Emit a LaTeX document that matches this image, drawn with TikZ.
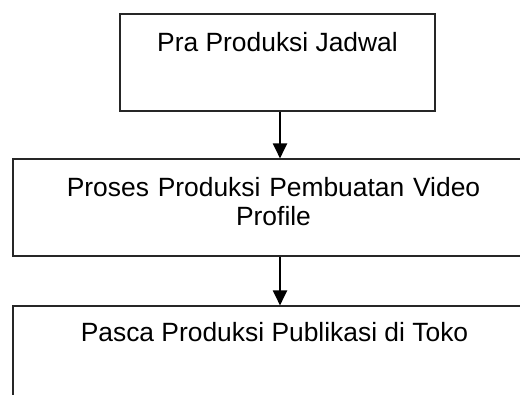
\documentclass[tikz,border=0pt]{standalone}
\usepackage{fontspec}
\setmainfont{Liberation Sans}
\usetikzlibrary{arrows.meta}
\begin{document}
\begin{tikzpicture}[x=1pt,y=-1pt,
  box/.style={draw=black!85, line width=1.1pt, rectangle, inner sep=0pt, minimum width=#1, minimum height=97pt},
  lbl/.style={inner sep=0pt, anchor=base, align=center, font=\fontsize{26.4}{29}\selectfont},
  arr/.style={line width=2pt, -{Triangle[length=15pt,width=14pt]}}]
\useasboundingbox (0,0) rectangle (520,395);
\clip (0,0) rectangle (520,395);
\node[box=315pt] (top) at (277.5,62.5) {};
\node[box=521pt] (mid) at (273.5,207.5) {};
\node[box=521pt] (bot) at (273.5,354.5) {};
\node[lbl] (t1) at (277.5,52) {Pra Produksi Jadwal};
\node[lbl, text width=500pt] (t2) at (273.5,196.5) {Proses Produksi Pembuatan Video\\Profile};
\node[lbl] (t3) at (274.5,341.5) {Pasca Produksi Publikasi di Toko};
\coordinate (ax) at (280,0);
\draw[arr] (top.south -| ax) -- (mid.north -| ax);
\draw[arr] (mid.south -| ax) -- (bot.north -| ax);
\end{tikzpicture}
\end{document}
